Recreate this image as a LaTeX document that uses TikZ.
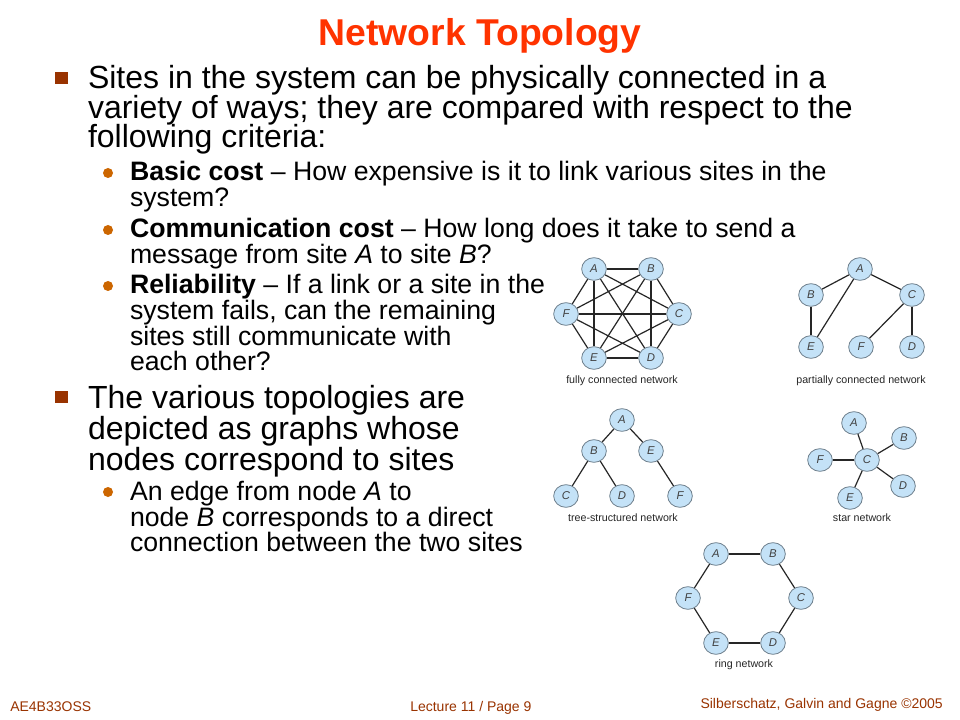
\documentclass[tikz,border=0pt]{standalone}
\usepackage{fontspec}
\setmainfont{Liberation Sans}
\usetikzlibrary{shapes.geometric}
\definecolor{titlec}{HTML}{FF3300}
\definecolor{sqbul}{HTML}{993300}
\definecolor{rdbul}{HTML}{CC6600}
\definecolor{footc}{HTML}{993300}
\definecolor{nodefill}{HTML}{C4E2F7}
\definecolor{nodeedge}{HTML}{6E7F8C}
\tikzset{
  line/.style={anchor=base west, inner sep=0pt, outer sep=0pt},
  mainline/.style={line, font=\fontsize{24}{28}\selectfont},
  subline/.style={line, font=\fontsize{20}{24}\selectfont},
  sqbullet/.style={fill=sqbul, draw=none, minimum size=9.5pt, inner sep=0pt},
  rdbullet/.style={circle, fill=rdbul, draw=none, minimum size=7.5pt, inner sep=0pt},
  site/.style={ellipse, fill=nodefill, draw=nodeedge, line width=0.6pt, minimum width=18.5pt, minimum height=17pt, inner sep=0pt, font=\fontsize{8.5}{9}\selectfont\itshape, text=black!75},
  link/.style={line width=0.9pt, draw=black!85},
  caption/.style={inner sep=0pt, font=\fontsize{8}{9}\selectfont, text=black!85},
  foot/.style={inner sep=0pt, font=\fontsize{10.5}{12}\selectfont, text=footc}
}
\begin{document}
\begin{tikzpicture}[x=0.75pt, y=-0.75pt]
\useasboundingbox (0,0) rectangle (960,720);
\fill[white] (0,0) rectangle (960,720);

% title
\node[inner sep=0pt, anchor=base, font=\fontsize{28}{32}\selectfont\bfseries, text=titlec] (title) at (480,46) {Network Topology};

% first main bullet
\node[sqbullet] (b1) at (61.5,78) {};
\node[mainline] (l1) at (88,89) {Sites in the system can be physically connected in a};
\node[mainline] (l2) at (88,118.5) {variety of ways; they are compared with respect to the};
\node[mainline] (l3) at (88,148) {following criteria:};

\node[rdbullet] (s1) at (108,173) {};
\node[subline] (t1) at (130,181) {\textbf{Basic cost} -- How expensive is it to link various sites in the};
\node[subline] (t2) at (130,207) {system?};
\node[rdbullet] (s2) at (108,230) {};
\node[subline] (t3) at (130,238) {\textbf{Communication cost} -- How long does it take to send a};
\node[subline] (t4) at (130,264) {message from site \textit{A} to site \textit{B}?};
\node[rdbullet] (s3) at (108,286) {};
\node[subline] (t5) at (130,294) {\textbf{Reliability} -- If a link or a site in the};
\node[subline] (t6) at (130,320) {system fails, can the remaining};
\node[subline] (t7) at (130,345) {sites still communicate with};
\node[subline] (t8) at (130,370) {each other?};

% second main bullet
\node[sqbullet] (b2) at (61.5,397) {};
\node[mainline] (m1) at (88,408) {The various topologies are};
\node[mainline] (m2) at (88,439) {depicted as graphs whose};
\node[mainline] (m3) at (88,470) {nodes correspond to sites};

\node[rdbullet] (s4) at (108,492) {};
\node[subline] (u1) at (130,500) {An edge from node \textit{A} to};
\node[subline] (u2) at (130,526) {node \textit{B} corresponds to a direct};
\node[subline] (u3) at (130,551) {connection between the two sites};

% fully connected network
\node[site] (fA) at (594,269) {A};
\node[site] (fB) at (651,269) {B};
\node[site] (fF) at (566,314) {F};
\node[site] (fC) at (679,314) {C};
\node[site] (fE) at (594,358) {E};
\node[site] (fD) at (651,358) {D};
\foreach \a/\b in {fA/fB,fA/fC,fA/fD,fA/fE,fA/fF,fB/fC,fB/fD,fB/fE,fB/fF,fC/fD,fC/fE,fC/fF,fD/fE,fD/fF,fE/fF}
  \draw[link] (\a) -- (\b);
\node[caption] (capf) at (622,381) {fully connected network};

% partially connected network
\node[site] (pA) at (860,269) {A};
\node[site] (pB) at (811,295) {B};
\node[site] (pC) at (912,295) {C};
\node[site] (pE) at (811,347) {E};
\node[site] (pF) at (861,347) {F};
\node[site] (pD) at (912,347) {D};
\foreach \a/\b in {pA/pB,pA/pE,pA/pC,pB/pE,pC/pF,pC/pD}
  \draw[link] (\a) -- (\b);
\node[caption] (capp) at (861,381) {partially connected network};

% tree-structured network
\node[site] (tA) at (622,420) {A};
\node[site] (tB) at (594,451) {B};
\node[site] (tE) at (651,451) {E};
\node[site] (tC) at (566,496) {C};
\node[site] (tD) at (622,496) {D};
\node[site] (tF) at (680,496) {F};
\foreach \a/\b in {tA/tB,tA/tE,tB/tC,tB/tD,tE/tF}
  \draw[link] (\a) -- (\b);
\node[caption] (capt) at (623,518) {tree-structured network};

% star network
\node[site] (sA) at (854,423) {A};
\node[site] (sB) at (904,438) {B};
\node[site] (sF) at (820,460) {F};
\node[site] (sC) at (867,460) {C};
\node[site] (sD) at (903,486) {D};
\node[site] (sE) at (850,498) {E};
\foreach \b in {sA,sB,sF,sD,sE}
  \draw[link] (sC) -- (\b);
\node[caption] (caps) at (862,518) {star network};

% ring network
\node[site] (rA) at (716,554) {A};
\node[site] (rB) at (773,554) {B};
\node[site] (rF) at (688,598) {F};
\node[site] (rC) at (801,598) {C};
\node[site] (rE) at (716,643) {E};
\node[site] (rD) at (773,643) {D};
\foreach \a/\b in {rA/rB,rB/rC,rC/rD,rD/rE,rE/rF,rF/rA}
  \draw[link] (\a) -- (\b);
\node[caption] (capr) at (744,665) {ring network};

% footer
\node[foot, anchor=base west] (f1) at (10,711) {AE4B33OSS};
\node[foot, anchor=base west] (f2) at (410,711) {Lecture 11 / Page 9};
\node[foot, anchor=base east] (f3) at (943,708) {Silberschatz, Galvin and Gagne \textcopyright 2005};
\end{tikzpicture}
\end{document}
